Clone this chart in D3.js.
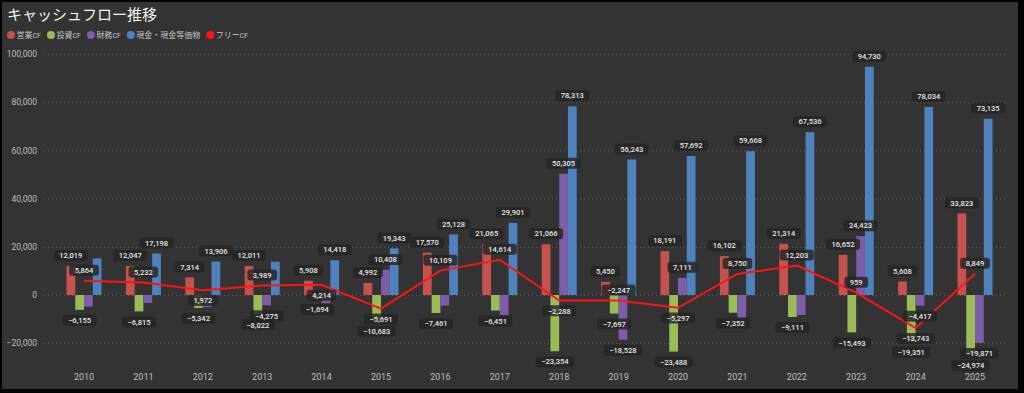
<!DOCTYPE html>
<html>
<head>
<meta charset="utf-8">
<script src="https://cdn.jsdelivr.net/npm/d3@7"></script>
<style>
  html, body { margin: 0; padding: 0; background: #000; }
  svg { display: block; font-family: 'Noto Sans CJK JP', 'Noto Sans', sans-serif; }
  .lbl text { font-family: Roboto, 'Noto Sans', sans-serif; font-size: 7.5px; font-weight: 500; fill: #e6e6e6; }
  .axis text { font-family: Roboto, 'Noto Sans', sans-serif; font-size: 8.5px; fill: #bdbdbd; }
</style>
</head>
<body>
<svg id="chart"></svg>
<script>
// data
const years = ['2010', '2011', '2012', '2013', '2014', '2015', '2016', '2017', '2018', '2019', '2020', '2021', '2022', '2023', '2024', '2025'];
const operatingCF = [12019, 12047, 7314, 12011, 5908, 4992, 17570, 21065, 21066, 5450, 18191, 16102, 21314, 16652, 5608, 33823];
const investingCF = [-6155, -6815, -5342, -8022, -1694, -10683, -7461, -6451, -23354, -7697, -23488, -7352, -9111, -15493, -19351, -24974];
const financingCF = [-4800, -3300, -5000, -4275, -3400, 10408, -4400, -8300, 50305, -18528, 7111, -9400, -8300, 24423, -4417, -19871];
const cashEquivalents = [15200, 17198, 13906, 13800, 14418, 19343, 25128, 29901, 78313, 56243, 57692, 59668, 67536, 94730, 78034, 73135];
const freeCF = [5864, 5232, 1972, 3989, 4214, -5691, 10109, 14614, -2288, -2247, -5297, 8750, 12203, 959, -13743, 8849];
const yTicks = [-20000, 0, 20000, 40000, 60000, 80000, 100000];

const series = [
  { name: '営業', values: operatingCF, color: '#c4524f' },
  { name: '投資', values: investingCF, color: '#9bbb59' },
  { name: '財務', values: financingCF, color: '#7b5ea7' },
  { name: '現金・現金等価物', values: cashEquivalents, color: '#4f81bd' },
];
const freeColor = '#ff1414';

const W = 1024, H = 393;
const svg = d3.select('#chart').attr('width', W).attr('height', H);

svg.append('rect').attr('width', W).attr('height', H).attr('fill', '#000');
svg.append('rect').attr('x', 2).attr('y', 2).attr('width', 1016).attr('height', 387).attr('fill', '#333333');

// title
svg.append('text').attr('x', 7).attr('y', 20).attr('fill', '#f2f2f2').style('font-size', '15px').text('キャッシュフロー推移');

// legend
const legendItems = series.map(s => ({ name: s.name, cf: s.name !== '現金・現金等価物', color: s.color }));
legendItems.push({ name: 'フリー', cf: true, color: freeColor });
let lx = 11;
legendItems.forEach(item => {
  const g = svg.append('g').attr('transform', `translate(${lx}, 35)`);
  g.append('circle').attr('r', 4).attr('fill', item.color);
  const t = g.append('text').attr('x', 5.5).attr('dy', '0.35em').attr('fill', '#c4c4c4').style('font-size', '8px');
  t.append('tspan').text(item.name);
  if (item.cf) t.append('tspan').style('font-family', 'Roboto, sans-serif').style('font-size', '7px').text('CF');
  lx += 5.5 + t.node().getComputedTextLength() + 10;
});

// scales
const x0 = d3.scaleBand().domain(years).range([54, 1005]).paddingInner(0.41).paddingOuter(0.21);
const x1 = d3.scaleBand().domain(series.map(s => s.name)).range([0, x0.bandwidth()]);
const y = d3.scaleLinear().domain([-30000, 100000]).range([367.3, 54]);

// y axis with dotted grid
const yAxis = svg.append('g').attr('class', 'axis').attr('transform', 'translate(44, 0)')
  .call(d3.axisLeft(y).tickValues(yTicks).tickFormat(d3.format(',')).tickSize(-(1005 - 44)).tickPadding(7));
yAxis.select('.domain').remove();
yAxis.selectAll('line').attr('stroke', '#5c5c5c').attr('stroke-dasharray', '1,3');

// x axis
const xAxis = svg.append('g').attr('class', 'axis').attr('transform', 'translate(0, 368)')
  .call(d3.axisBottom(x0).tickSize(0).tickPadding(6));
xAxis.select('.domain').remove();
xAxis.selectAll('text').style('font-size', '9px').attr('fill', '#c8c8c8');

// bars
const groups = svg.append('g').selectAll('g').data(years).join('g')
  .attr('transform', d => `translate(${x0(d)}, 0)`);
groups.selectAll('rect')
  .data((d, i) => series.map(s => ({ key: s.name, value: s.values[i], color: s.color })))
  .join('rect')
  .attr('x', d => x1(d.key))
  .attr('width', x1.bandwidth())
  .attr('y', d => y(Math.max(0, d.value)))
  .attr('height', d => Math.abs(y(d.value) - y(0)))
  .attr('fill', d => d.color);

// free cash flow line
const cx = d => x0(d) + x0.bandwidth() / 2;
svg.append('path')
  .datum(freeCF)
  .attr('fill', 'none')
  .attr('stroke', freeColor)
  .attr('stroke-width', 2)
  .attr('d', d3.line().x((d, i) => cx(years[i])).y(d => y(d)));

// data labels, hidden when they would collide (like the original)
const fmt = d3.format(',');
const labelLayer = svg.append('g').attr('class', 'lbl');
const placed = [];
const hitH = 8.8;
function overlaps(a, b) {
  return a.x0 < b.x1 && b.x0 < a.x1 && a.y0 < b.y1 && b.y0 < a.y1;
}
function addLabel(px, candidates, value, force) {
  const g = labelLayer.append('g');
  const rect = g.append('rect');
  const t = g.append('text').attr('text-anchor', 'middle').attr('dy', '0.36em').text(fmt(value));
  const tw = t.node().getComputedTextLength();
  const w = tw + 11, hw = (tw + 8) / 2;
  const boxAt = py => ({ x0: px - hw, x1: px + hw, y0: py - hitH / 2, y1: py + hitH / 2 });
  let chosen = null;
  for (const py of candidates) {
    const box = boxAt(py);
    if (!placed.some(b => overlaps(b, box))) { chosen = { py, box }; break; }
  }
  if (!chosen && force) chosen = { py: candidates[0], box: boxAt(candidates[0]) };
  if (!chosen) { g.remove(); return; }
  placed.push(chosen.box);
  g.attr('transform', `translate(${px}, ${chosen.py})`);
  rect.attr('x', -w / 2).attr('y', -5.5).attr('width', w).attr('height', 11).attr('rx', 3)
    .attr('fill', 'rgba(36,36,36,0.82)');
}

// placement priority: operating, investing, cash, financing, then free CF
[0, 1, 3, 2].forEach(k => {
  const s = series[k];
  years.forEach((yr, i) => {
    const v = s.values[i];
    const px = x0(yr) + x1(s.name) + x1.bandwidth() / 2;
    const py = v >= 0 ? y(v) - 10.5 : y(v) + 10.5;
    addLabel(px, [py], v, false);
  });
});

years.forEach((yr, i) => {
  const v = freeCF[i];
  const prev = freeCF[i - 1], next = freeCF[i + 1];
  const localMin = prev !== undefined && next !== undefined && v < prev && v < next;
  const above = y(v) - 10.5, below = y(v) + 10.3;
  addLabel(cx(yr), localMin ? [below, above] : [above, below], v, true);
});
</script>
</body>
</html>
